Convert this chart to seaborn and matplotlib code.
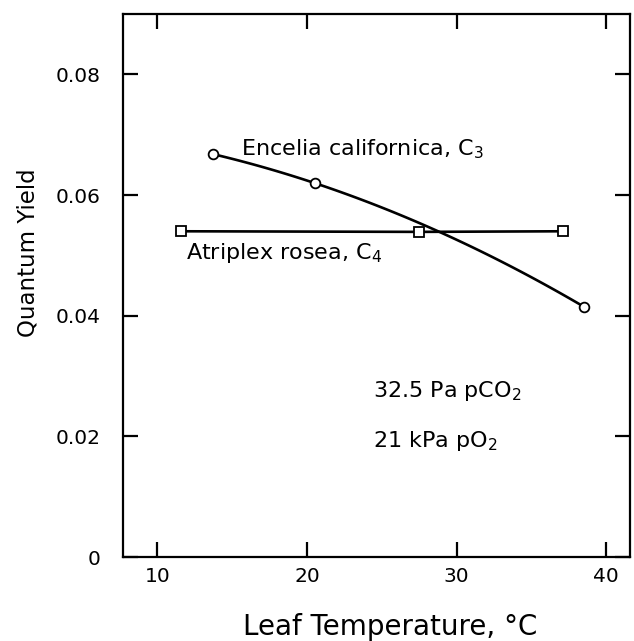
import numpy as np
import pandas as pd
import matplotlib
matplotlib.use("Agg")
import matplotlib.pyplot as plt
import seaborn as sns

# values
encelia_temp = [13.7, 20.5, 38.5]
encelia_yield = [0.0668, 0.0620, 0.0415]
atriplex_temp = [11.6, 27.5, 37.1]
atriplex_yield = [0.0540, 0.0539, 0.0540]
x_ticks = [10, 20, 30, 40]
y_ticks = [0, 0.02, 0.04, 0.06, 0.08]
y_tick_labels = ["0", "0.02", "0.04", "0.06", "0.08"]

sns.set_style("ticks")
plt.rcParams["font.family"] = ["DejaVu Sans"]
plt.rcParams["mathtext.fontset"] = "custom"
plt.rcParams["mathtext.rm"] = "DejaVu Sans"
plt.rcParams["mathtext.default"] = "regular"
for key in ["text.color", "axes.labelcolor", "axes.edgecolor",
            "xtick.color", "ytick.color"]:
    plt.rcParams[key] = "black"

enc = pd.DataFrame({"temp": encelia_temp, "qy": encelia_yield})
atr = pd.DataFrame({"temp": atriplex_temp, "qy": atriplex_yield})

# smooth line through the C3 points (hand-drawn curve in the original)
coef = np.polyfit(enc["temp"], enc["qy"], 2)
xs = np.linspace(enc["temp"].min(), enc["temp"].max(), 100)
curve = pd.DataFrame({"temp": xs, "qy": np.polyval(coef, xs)})

fig = plt.figure(figsize=(6.34, 6.41), dpi=100)
ax = fig.add_axes([0.194, 0.131, 0.8, 0.847])

sns.lineplot(data=curve, x="temp", y="qy", ax=ax, color="black", lw=1.9)
sns.lineplot(data=atr, x="temp", y="qy", ax=ax, color="black", lw=1.9,
             marker="s", markersize=7, markerfacecolor="white",
             markeredgecolor="black", markeredgewidth=1.3)
ax.plot(enc["temp"], enc["qy"], ls="none", marker="o", markersize=7,
        mfc="white", mec="black", mew=1.3, zorder=5)

ax.set_xlim(7.7, 41.6)
ax.set_ylim(0, 0.09)
ax.set_xticks(x_ticks)
ax.set_yticks(y_ticks)
ax.set_yticklabels(y_tick_labels)
ax.tick_params(axis="both", direction="in", length=11, width=1.6,
               top=True, right=True, labelsize=14.5)
ax.tick_params(axis="y", pad=16)
ax.tick_params(axis="x", pad=7)
for s in ax.spines.values():
    s.set_linewidth(1.6)
    s.set_visible(True)

ax.set_xlabel("Leaf Temperature, °C", fontsize=20, va="center")
ax.xaxis.set_label_coords(0.527, -0.129)
ax.set_ylabel("Quantum Yield", fontsize=16.5, va="center")
ax.yaxis.set_label_coords(-0.187, 0.56)

ann = dict(fontsize=16, va="center")
ax.text(15.6, 0.0676, r"Encelia californica, C$_3$", **ann)
ax.text(11.9, 0.0504, r"Atriplex rosea, C$_4$", **ann)
ax.text(24.4, 0.0276, r"32.5 Pa pCO$_2$", **ann)
ax.text(24.4, 0.0192, r"21 kPa pO$_2$", **ann)

fig.savefig("out.png", dpi=100)
